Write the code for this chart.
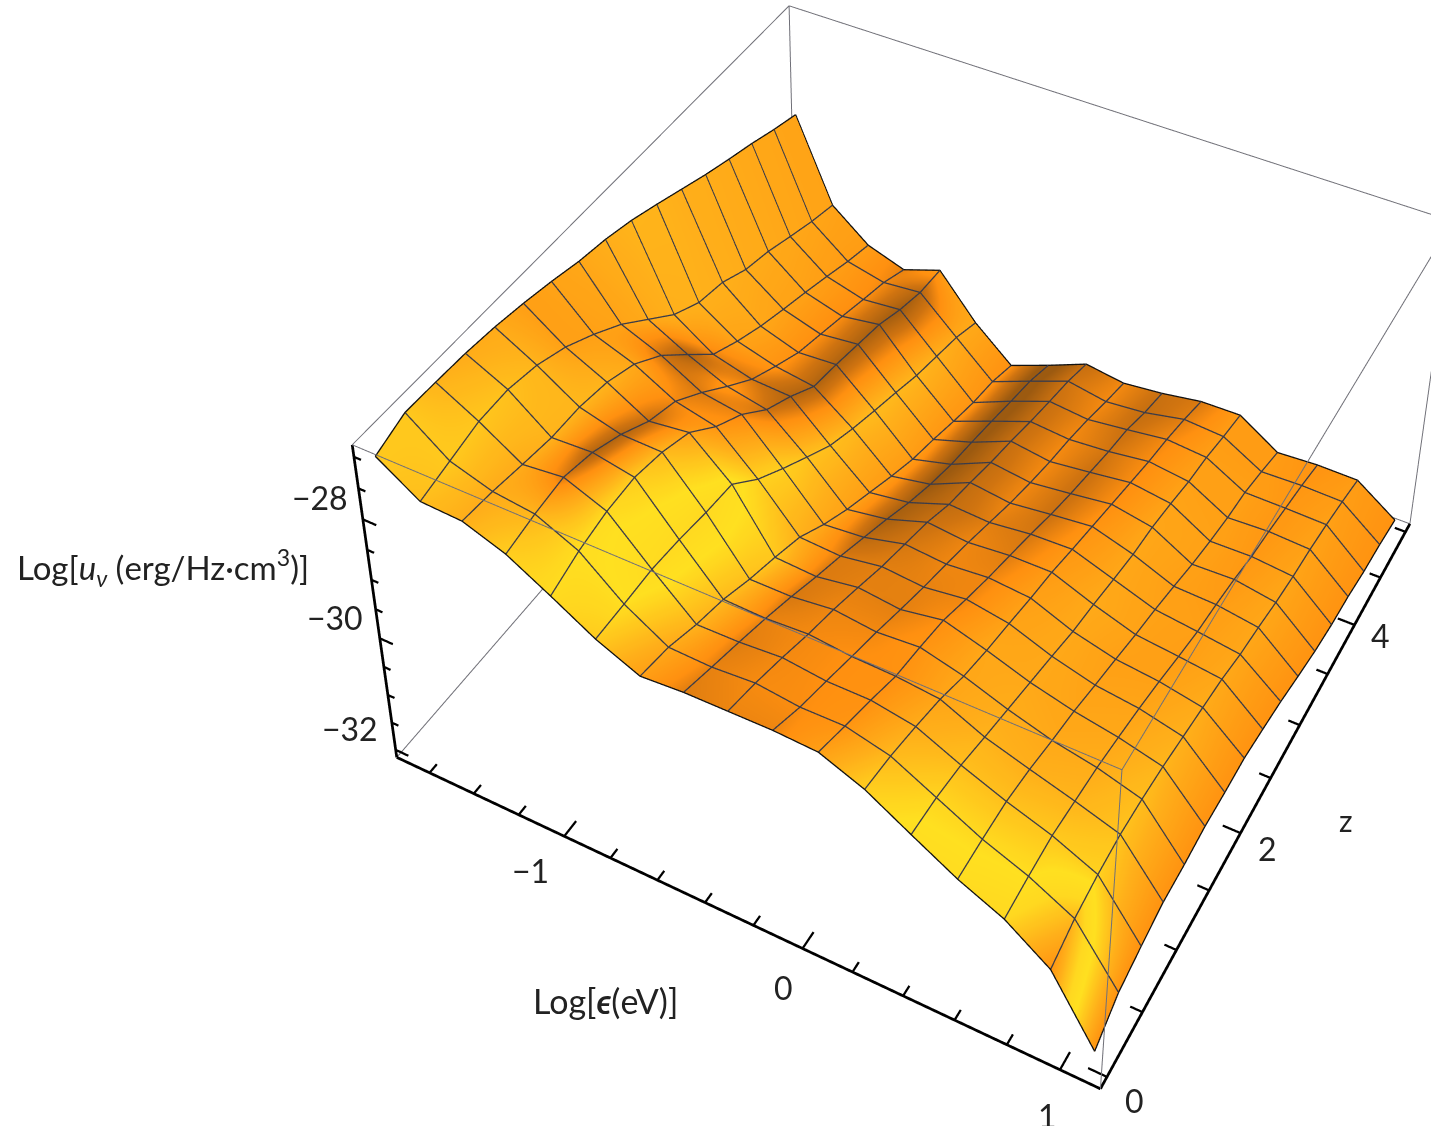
import numpy as np, plotly.graph_objects as go

# Axis ranges of the plot box
EPS_RANGE = (-1.756, 1.156)
Z_RANGE = (-0.1, 5.1)
U_RANGE = (-32.15, -26.8)

# Grid of the surface: Log[epsilon(eV)] and redshift z
log_eps = [-1.7, -1.525, -1.35, -1.175, -1.0, -0.825, -0.65, -0.475, -0.3, -0.125, 0.05, 0.225, 0.4, 0.575, 0.75, 0.925, 1.1]
redshift = [0, 0.3125, 0.625, 0.9375, 1.25, 1.5625, 1.875, 2.1875, 2.5, 2.8125, 3.125, 3.4375, 3.75, 4.0625, 4.375, 4.6875, 5.0]

# Log[u_nu], stored as 100*(value+33); one row per redshift
log_u_rows = [
 [593,549,546,522,484,444,414,419,420,421,418,390,349,309,277,227,120],
 [612,562,541,533,502,445,404,402,407,399,400,383,347,311,283,246,153],
 [611,575,533,540,513,447,385,386,391,383,383,371,339,311,287,255,165],
 [609,577,526,529,516,442,371,369,373,366,364,357,325,303,282,259,175],
 [604,568,526,508,506,434,350,350,358,350,355,337,312,291,277,256,175],
 [596,550,518,480,488,429,333,329,340,332,344,323,299,281,268,250,178],
 [586,524,500,464,448,386,314,310,321,315,324,312,286,267,258,241,175],
 [574,494,467,430,419,353,283,289,306,300,306,300,272,254,246,232,174],
 [566,456,421,392,378,322,257,268,291,284,290,290,263,240,232,223,165],
 [554,418,374,356,352,292,235,245,270,266,274,276,252,228,219,209,155],
 [538,393,350,331,321,272,213,226,257,248,256,263,242,214,211,200,142],
 [521,383,330,308,312,255,193,211,242,233,241,250,237,199,201,189,130],
 [504,361,314,294,301,239,179,201,230,220,228,237,227,187,188,181,122],
 [489,349,299,280,290,222,163,190,216,210,215,224,215,177,180,176,118],
 [475,332,283,265,271,210,149,178,204,197,205,214,208,171,170,168,110],
 [459,316,266,251,257,198,140,167,193,181,187,201,196,158,160,158,106],
 [445,303,252,230,253,179,123,149,177,167,174,185,186,143,147,146, 99],
]

# Dark creases seen in the picture: (row, column, shade offset)
creases = [(2,3,-.18),(3,3,-.22),(4,3,-.22),(5,3,-.2),(6,3,-.15),(6,4,-.15),(7,3,-.15),(7,4,-.2),(8,4,-.25),
           (9,4,-.3),(10,4,-.3),(11,4,-.3),(12,4,-.3),(13,4,-.3),(14,4,-.3),(15,4,-.25),
           (7,2,-.22),(8,2,-.3),(9,2,-.15),(9,3,-.08)]

# Tick positions and labels
eps_ticks_minor = [-1.6,-1.4,-1.2,-0.8,-0.6,-0.4,-0.2,0.2,0.4,0.6,0.8]
eps_ticks_major = [-1,0,1]
z_ticks_minor = [0.5,1,1.5,2.5,3,3.5,4.5,5]
z_ticks_major = [0,2,4]
u_ticks_minor = [-27,-27.5,-28.5,-29,-29.5,-30.5,-31,-31.5]
u_ticks_major = [-28,-30,-32]

# Plotly's 3D camera has a fixed 45 degree field of view tied to the canvas height,
# so the narrow lens of the reference needs a taller canvas shifted behind the window.
W, H, LEFT, TOP = 1900, 2400, -31, -1270

U = np.array(log_u_rows, float)/100 - 33
X = np.array(log_eps); Z = np.array(redshift)

# Shading: slope along energy, weaker towards high z, plus the creases read above
rise = -np.gradient(U, axis=1)
factor = 0.9 - 0.12*Z[:, None]
S = np.where(rise > 0, rise*factor, rise) + 0.2*np.gradient(U, axis=0)
col = np.arange(17)[None, :]
zz = Z[:, None]
S = S + 0.12*np.clip(1-col/6, 0, 1)*np.clip(1-zz/1.6, 0, 1)
S = S + 0.08*np.clip((col-10)/5, 0, 1) + 0.15*np.clip((col-10)/3, 0, 1)*np.clip(1-zz/0.8, 0, 1)
high = zz[:, 0] > 1.5
S[:, 0] *= np.where(high, 0.3, 0.6)
S[:, 1] *= np.where(high, 0.45, 0.8)
S[:, 15] *= np.where(Z > 0.5, 0.6, 1.0)
S[:, 16] = 0.02
for r, c, v in creases:
    S[r, c] += v

fig = go.Figure()
fig.add_trace(go.Surface(x=log_eps, y=redshift, z=U, surfacecolor=S, cmin=-0.25, cmax=1.0, showscale=False,
    colorscale=[[0,'#9c5a10'],[0.12,'#d07410'],[0.2,'#ff9010'],[0.36,'#ffb01a'],[0.56,'#ffe020'],[0.68,'#ffd820'],[0.84,'#ffb01a'],[1,'#ff9010']],
    lighting=dict(ambient=1, diffuse=0, specular=0, roughness=1, fresnel=0), hoverinfo='skip'))

LIFT = 0.012
def polylines(lines, color, width):
    xs, ys, zs = [], [], []
    for lx, ly, lz in lines:
        xs += list(lx)+[np.nan]; ys += list(ly)+[np.nan]; zs += list(lz)+[np.nan]
    fig.add_trace(go.Scatter3d(x=xs, y=ys, z=zs, mode='lines', line=dict(color=color, width=width), showlegend=False, hoverinfo='skip'))

polylines([(X, [Z[j]]*17, U[j]+LIFT) for j in range(1, 16)] + [([X[i]]*17, Z, U[:, i]+LIFT) for i in range(1, 16)], '#3c3c48', 2.6)
polylines([(X, [Z[0]]*17, U[0]+LIFT), (X, [Z[16]]*17, U[16]+LIFT), ([X[0]]*17, Z, U[:, 0]+LIFT), ([X[16]]*17, Z, U[:, 16]+LIFT)], '#111111', 2.6)

def box(k):
    c = 0.002+0.996*np.array(k, float)
    return (EPS_RANGE[0]+c[0]*(EPS_RANGE[1]-EPS_RANGE[0]), Z_RANGE[0]+c[1]*(Z_RANGE[1]-Z_RANGE[0]), U_RANGE[0]+c[2]*(U_RANGE[1]-U_RANGE[0]))
def seg(a, b):
    A, B = box(a), box(b)
    return ([A[0], B[0]], [A[1], B[1]], [A[2], B[2]])
polylines([seg(*e) for e in [((1,1,0),(0,1,0)),((0,1,0),(0,0,0)),((0,0,1),(1,0,1)),((1,0,1),(1,1,1)),((1,1,1),(0,1,1)),((0,1,1),(0,0,1)),((1,0,0),(1,0,1)),((1,1,0),(1,1,1)),((0,1,0),(0,1,1))]], '#707078', 2)
polylines([seg(*e) for e in [((0,0,0),(1,0,0)),((1,0,0),(1,1,0)),((0,0,0),(0,0,1))]], '#000000', 5.5)

bx, bz, bu = box((0,0,0))
tx = box((1,0,0))[0]
ticks = []
for v, l in [(t, 0.08) for t in eps_ticks_minor] + [(t, 0.135) for t in eps_ticks_major]:
    ticks.append(([v, v], [bz, bz+l], [bu, bu]))
for v, l in [(t, 0.046) for t in z_ticks_minor] + [(t, 0.07) for t in z_ticks_major]:
    ticks.append(([tx, tx-l], [v, v], [bu, bu]))
for v, l in [(t, 0.03) for t in u_ticks_minor] + [(t, 0.058) for t in u_ticks_major]:
    ticks.append(([bx, bx+l], [bz, bz], [v, v]))
polylines(ticks, '#000000', 4.5)

def pap(px, py):
    return (px-LEFT)/W, 1-(py-TOP)/H
labels = [("−28",320,497,32),("−30",335,617,32),("−32",350,728,32),("−1",530,870,32),("0",783,987,32),("1",1047,1115,32),
          ("0",1134,1100,32),("2",1267,848,32),("4",1380,635,32),("z",1346,820,30),
          ("Log[<i>u</i><sub><i>ν</i></sub> (erg/Hz·cm<sup>3</sup>)]",163,567,33),("Log[<b><i>ϵ</i></b>(eV)]",605,1000,34)]
ann = []
for t, px, py, s in labels:
    a, b = pap(px, py)
    ann.append(dict(text=t, x=a, y=b, xref='paper', yref='paper', showarrow=False, xanchor='center', yanchor='middle', font=dict(family='Lato', size=s, color='#222222')))

ax = dict(showgrid=False, showbackground=False, zeroline=False, showticklabels=False, ticks='', title='', showspikes=False, showline=False)
fig.update_layout(width=W, height=H, margin=dict(l=0, r=0, t=0, b=0), paper_bgcolor='white', showlegend=False, annotations=ann,
    scene=dict(domain=dict(x=[0,1], y=[0,1]), aspectmode='manual', aspectratio=dict(x=1.2846, y=1.3041, z=0.7081),
        camera=dict(eye=dict(x=1.6093, y=-3.0559, z=3.4484), center=dict(x=0.2426, y=-0.4979, z=1.4878), up=dict(x=0.4644, y=-0.8732, z=1.0)),
        xaxis=dict(range=EPS_RANGE, **ax), yaxis=dict(range=Z_RANGE, **ax), zaxis=dict(range=U_RANGE, **ax)))
js = f"var g=document.getElementById('{{plot_id}}');g.style.position='fixed';g.style.left='{LEFT}px';g.style.top='{TOP}px';document.body.style.overflow='hidden';document.documentElement.style.overflow='hidden';"
fig.write_html("out.html", post_script=js, config=dict(displayModeBar=False))
